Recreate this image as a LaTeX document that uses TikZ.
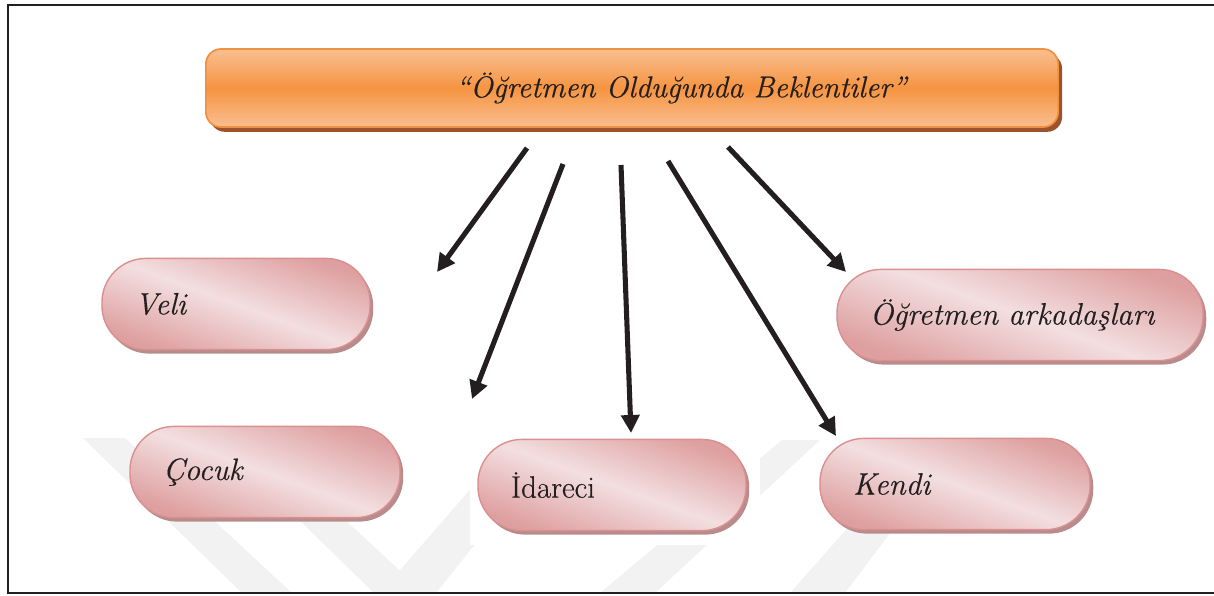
\documentclass[tikz,border=0pt]{standalone}
\usepackage{fontspec}
\setmainfont{Latin Modern Roman}[FakeBold = 0.4]
\usetikzlibrary{arrows.meta,shadows}

\definecolor{ink}{HTML}{231F20}
\definecolor{pillEdge}{HTML}{D9908F}
\definecolor{pillDark}{HTML}{DE9FA0}
\definecolor{pillLight}{HTML}{F3DFE0}
\definecolor{pillShadow}{HTML}{B88C8D}
\definecolor{headLight}{HTML}{F9BF90}
\definecolor{headMid}{HTML}{F69441}
\definecolor{headEdge}{HTML}{F0913F}
\definecolor{headShadow}{HTML}{9E5229}

\begin{document}
\begin{tikzpicture}
        [
            x = 0.025cm, y = -0.025cm,
            every node/.style = {font = \fontsize{22}{26}\selectfont, text = ink},
            header/.style = {rectangle, rounded corners = 0.375cm, draw = headEdge, line width = 1.2pt,
                top color = headLight, bottom color = headLight, middle color = headMid,
                drop shadow = {shadow xshift = 0.1cm, shadow yshift = -0.12cm, fill = headShadow, opacity = 1},
                minimum height = 1.95cm, inner xsep = 0pt, text width = 21.3cm, align = center},
            pill/.style = {rectangle, rounded corners = 1.1cm, draw = pillEdge, line width = 1pt,
                top color = pillDark, bottom color = pillDark, middle color = pillLight, shading angle = -20,
                drop shadow = {shadow xshift = 0.08cm, shadow yshift = -0.1cm, fill = pillShadow, opacity = 1},
                minimum height = 2.28cm, inner xsep = 0.825cm, text width = #1, align = left},
            pointer/.style = {draw = ink, line width = 3.6pt, -{Triangle[length = 0.45cm, width = 0.45cm]}},
            stripe/.style = {fill = black!5}
        ]

        \useasboundingbox (0,0) rectangle (1214,595);

        \fill[stripe] (83,438) -- (125,438) -- (292,593) -- (242,593) -- cycle;
        \fill[stripe] (215,438) -- (257,438) -- (424,593) -- (374,593) -- cycle;
        \fill[stripe] (380,593) -- (436,593) -- (560,438) -- (515,438) -- cycle;
        \fill[stripe] (600,593) -- (655,593) -- (820,440) -- (782,440) -- cycle;
        \fill[stripe] (790,593) -- (845,593) -- (930,480) -- (890,480) -- cycle;
        \fill[white] (470,432) rectangle (760,545);

        \draw[ink, line width = 2pt] (1214,5) -- (8,5) -- (8,593) -- (1214,593);

        \node[header] (title) at (632,88)
            {\fontsize{21.5}{25}\selectfont\it \hspace*{2.45cm}“Öğretmen Olduğunda Beklentiler”};

        \node[pill = 5.05cm] (veli) at (236,304) {\it Veli};
        \node[pill = 7.5cm] (arkadas) at (1020,315) {\it Öğretmen arkadaşları};
        \node[pill = 5.1cm] (cocuk) at (265,472) {\it Çocuk};
        \node[pill = 5.05cm] (idareci) at (612,485) {İdareci};
        \node[pill = 5.1cm] (kendi) at (955,484) {\it Kendi};

        \coordinate (from veli) at (527,148);
        \coordinate (to veli) at (437,272);
        \coordinate (from cocuk) at (563,164);
        \coordinate (to cocuk) at (472,399);
        \coordinate (from idareci) at (621,165);
        \coordinate (to idareci) at (631,433);
        \coordinate (from kendi) at (668,161);
        \coordinate (to kendi) at (836,436);
        \coordinate (from arkadas) at (728,147);
        \coordinate (to arkadas) at (846,272);

        \draw[pointer] (from veli) -- (to veli);
        \draw[pointer] (from cocuk) -- (to cocuk);
        \draw[pointer] (from idareci) -- (to idareci);
        \draw[pointer] (from kendi) -- (to kendi);
        \draw[pointer] (from arkadas) -- (to arkadas);
    \end{tikzpicture}
\end{document}
